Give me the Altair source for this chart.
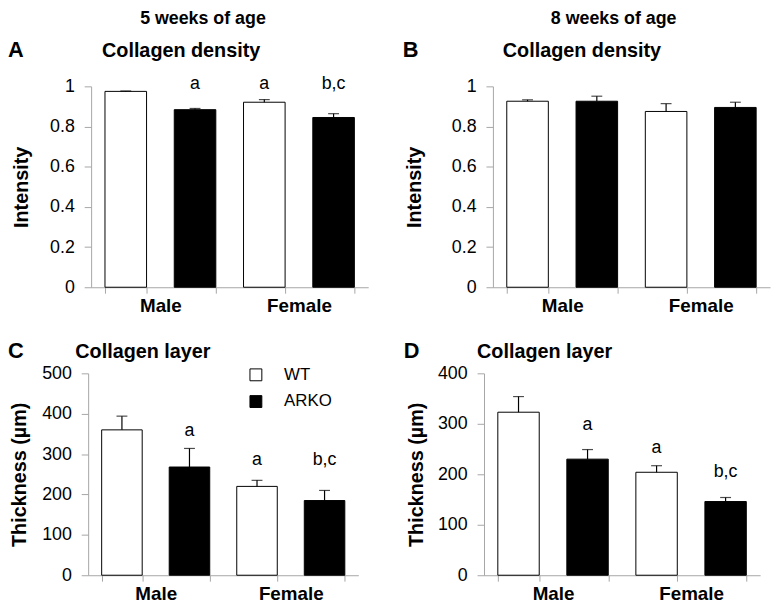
import altair as alt
import pandas as pd

FONT = "Liberation Sans"
AXIS_GRAY = "#a6a6a6"

# ---- data ----
groups = ["Male WT", "Male ARKO", "Female WT", "Female ARKO"]
genotypes = ["WT", "ARKO", "WT", "ARKO"]
legend_order = ["WT", "ARKO"]

a_mean = [0.975, 0.884, 0.921, 0.845]
a_sem = [0.002, 0.006, 0.013, 0.019]
a_ann = ["", "a", "a", "b,c"]
a_ann_y = [0.985, 0.985, 0.985, 0.985]

b_mean = [0.926, 0.926, 0.875, 0.895]
b_sem = [0.007, 0.025, 0.039, 0.026]
b_ann = ["", "", "", ""]
b_ann_y = [0, 0, 0, 0]

c_mean = [360, 268, 220, 185]
c_sem = [34, 46, 15, 25]
c_ann = ["", "a", "a", "b,c"]
c_ann_y = [0, 346, 273, 273]

d_mean = [323, 230, 204, 146]
d_sem = [31, 19, 13, 8]
d_ann = ["", "a", "a", "b,c"]
d_ann_y = [0, 288, 242, 195]

density_ticks = [0, 0.2, 0.4, 0.6, 0.8, 1]
c_ticks = [0, 100, 200, 300, 400, 500]
d_ticks = [0, 100, 200, 300, 400]

LABEL_EXPR = ("datum.value == 'Male ARKO' ? 'Male' : "
              "datum.value == 'Female ARKO' ? 'Female' : ''")

LEG = alt.Legend(title=None, orient="none", legendX=242, legendY=359,
                 direction="vertical", symbolType="square", symbolSize=144,
                 symbolStrokeColor="black", symbolStrokeWidth=1,
                 labelFont=FONT, labelFontSize=17, labelColor="black",
                 labelOffset=20, rowPadding=9)

fill = alt.Fill("genotype:N",
                scale=alt.Scale(domain=legend_order, range=["white", "black"]),
                legend=LEG)


def panel(mean, sem, ann, ann_y, ydomain, yticks, yfmt, ytitle,
          xrange, yrange, xoff, yoff, tpad):
    df = pd.DataFrame({
        "group": groups,
        "genotype": genotypes,
        "mean": mean,
        "top": [m + s for m, s in zip(mean, sem)],
        "ann": ann,
        "ann_y": ann_y,
    })
    step = (xrange[1] - xrange[0]) / len(groups)
    xscale = alt.Scale(domain=groups, range=xrange, paddingInner=0.4, paddingOuter=0.2)
    yscale = alt.Scale(domain=ydomain, range=yrange, nice=False, zero=True)
    xaxis = alt.Axis(title=None, orient="bottom", labelExpr=LABEL_EXPR,
                     labelOffset=-step / 2, tickBand="extent", tickSize=6,
                     labelPadding=4, labelAngle=0,
                     labelFont=FONT, labelFontSize=19, labelFontWeight="bold",
                     labelColor="black", domainColor=AXIS_GRAY, tickColor=AXIS_GRAY,
                     offset=xoff, grid=False)
    yaxis = alt.Axis(title=ytitle, orient="left", values=yticks, format=yfmt,
                     tickSize=7, labelPadding=10, labelFont=FONT, labelFontSize=18,
                     labelColor="black", domainColor=AXIS_GRAY, tickColor=AXIS_GRAY,
                     titleFont=FONT, titleFontSize=20, titleFontWeight="bold",
                     titleColor="black", titlePadding=tpad, offset=yoff, grid=False)
    X = alt.X("group:N", scale=xscale, axis=xaxis)
    base = alt.Chart(df)
    bars = base.mark_bar(stroke="black", strokeWidth=1).encode(
        x=X,
        y=alt.Y("mean:Q", scale=yscale, axis=yaxis),
        fill=fill,
    )
    rule = base.mark_rule(color="black", strokeWidth=1.2).encode(
        x=X,
        y=alt.Y("mean:Q", scale=yscale, axis=yaxis),
        y2="top:Q",
    )
    cap = base.mark_tick(color="black", thickness=1.2, size=11).encode(
        x=X,
        y=alt.Y("top:Q", scale=yscale, axis=yaxis),
    )
    text = base.transform_filter("datum.ann != ''").mark_text(
        font=FONT, fontSize=18, baseline="alphabetic", color="black"
    ).encode(
        x=X,
        y=alt.Y("ann_y:Q", scale=yscale, axis=yaxis),
        text="ann:N",
    )
    return alt.layer(bars, rule, cap, text)


pA = panel(a_mean, a_sem, a_ann, a_ann_y, [0, 1], density_ticks, "~g", "Intensity",
           [84, 364], [279, 76], -327, -84, 18)
pB = panel(b_mean, b_sem, b_ann, b_ann_y, [0, 1], density_ticks, "~g", "Intensity",
           [490, 770], [279, 76], -327, -490, 27)
pC = panel(c_mean, c_sem, c_ann, c_ann_y, [0, 500], c_ticks, "d", "Thickness (µm)",
           [81, 354], [570, 366], -36, -81, 12)
pD = panel(d_mean, d_sem, d_ann, d_ann_y, [0, 400], d_ticks, "d", "Thickness (µm)",
           [481, 760], [570, 366], -36, -481, 11)


def label(txt, x, y, size, align="left"):
    return alt.Chart(pd.DataFrame({"t": [txt]})).mark_text(
        font=FONT, fontSize=size, fontWeight="bold", color="black",
        align=align, baseline="alphabetic"
    ).encode(text="t:N", x=alt.value(x), y=alt.value(y))


headers = ["5 weeks of age", "8 weeks of age"]
letters = ["A", "B", "C", "D"]
subtitles = ["Collagen density", "Collagen density", "Collagen layer", "Collagen layer"]

texts = [
    label(headers[0], 197, 13, 18, "center"),
    label(headers[1], 612, 13, 18, "center"),
    label(letters[0], 0, 46, 22),
    label(subtitles[0], 95, 46, 20),
    label(letters[1], 399, 46, 22),
    label(subtitles[1], 500, 46, 20),
    label(letters[2], 0, 350, 22),
    label(subtitles[2], 68, 350, 20),
    label(letters[3], 400, 350, 22),
    label(subtitles[3], 474, 350, 20),
]

chart = alt.layer(pA, pB, pC, pD, *texts).resolve_scale(
    x="independent", y="independent"
).resolve_axis(
    x="independent", y="independent"
).properties(
    width=771, height=606,
    autosize=alt.AutoSizeParams(type="none"),
    padding=0,
).configure_view(stroke=None)

chart.save("out.html", embed_options={"renderer": "svg", "actions": False})
